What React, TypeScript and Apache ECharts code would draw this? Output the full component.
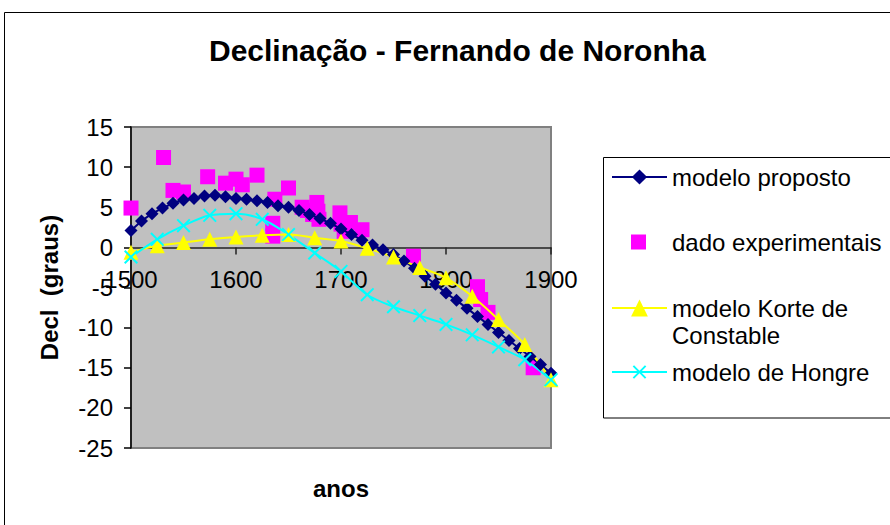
import React, { useEffect, useRef } from "react";
import * as echarts from "echarts";

const FONT = "'Liberation Sans', Arial, sans-serif";

const title = "Declinação - Fernando de Noronha";
const xName = "anos";
const yName = "Decl  (graus)";

const seriesNames = [
  "modelo proposto",
  "dado experimentais",
  "modelo Korte de Constable",
  "modelo de Hongre",
];

const modelYears = [
  1500, 1510, 1520, 1530, 1540, 1550, 1560, 1570, 1580, 1590, 1600, 1610, 1620, 1630,
  1640, 1650, 1660, 1670, 1680, 1690, 1700, 1710, 1720, 1730, 1740, 1750, 1760, 1770,
  1780, 1790, 1800, 1810, 1820, 1830, 1840, 1850, 1860, 1870, 1880, 1890, 1900,
];
const modelValues = [
  2.1, 3.3, 4.2, 4.9, 5.5, 5.9, 6.1, 6.4, 6.5, 6.3, 6.1, 6.0, 5.8, 5.6,
  5.2, 5.0, 4.6, 4.1, 3.6, 3.0, 2.3, 1.6, 0.9, 0.3, -0.3, -0.9, -1.7, -2.6,
  -3.6, -4.6, -5.7, -6.6, -7.6, -8.6, -9.6, -10.6, -11.6, -12.6, -13.6, -14.6, -15.7,
];

const expYears = [
  1500, 1531, 1540, 1550, 1573, 1590, 1600, 1606, 1620, 1637, 1635, 1635, 1650, 1663,
  1668, 1673, 1677, 1678, 1679, 1699, 1700, 1703, 1709, 1720, 1769, 1830, 1833, 1840, 1883,
];
const expValues = [
  4.9, 11.2, 7.1, 6.9, 8.8, 8.0, 8.5, 7.8, 9.0, 6.0, 3.0, 1.4, 7.4, 5.0,
  4.6, 4.1, 5.6, 4.5, 3.5, 4.3, 2.9, 2.0, 3.1, 2.2, -1.1, -4.9, -6.5, -8.1, -15.0,
];

const modelYears25 = [
  1500, 1525, 1550, 1575, 1600, 1625, 1650, 1675, 1700, 1725, 1750, 1775, 1800, 1825,
  1850, 1875, 1900,
];
const korteValues = [
  -0.6, 0.2, 0.6, 1.0, 1.3, 1.5, 1.6, 1.2, 0.8, -0.1, -1.2, -2.5, -3.8, -6.1, -9.0,
  -12.1, -16.5,
];
const hongreValues = [
  -1.2, 1.0, 2.7, 4.0, 4.2, 3.5, 1.6, -0.7, -3.0, -5.9, -7.4, -8.5, -9.6, -10.9, -12.4,
  -14.0, -16.5,
];

const xMin = 1500;
const xMax = 1900;
const xInterval = 100;
const yMin = -25;
const yMax = 15;
const yInterval = 5;

const GRID_TOP = 127;
const GRID_HEIGHT = 321;

const CROSS =
  "path://M1,0 L5,4 L9,0 L10,1 L6,5 L10,9 L9,10 L5,6 L1,10 L0,9 L4,5 L0,1 Z";

const pairs = (xs: number[], ys: number[]) => xs.map((x, i) => [x, ys[i]]);

export default function App() {
  const ref = useRef<HTMLDivElement>(null);

  useEffect(() => {
    if (!ref.current) return;
    const chart = echarts.init(ref.current, undefined, { renderer: "svg" });

    const legendText = { fontFamily: FONT, fontSize: 24, color: "#000" };
    // distance from the grid bottom up to the y = 0 line
    const zeroOffset = ((0 - yMin) / (yMax - yMin)) * GRID_HEIGHT;

    chart.setOption({
      animation: false,
      backgroundColor: "#ffffff",
      title: {
        text: title,
        left: 204,
        top: 30,
        textStyle: { fontFamily: FONT, fontSize: 30, fontWeight: "bold", color: "#000" },
      },
      graphic: [
        {
          type: "rect",
          z: -10,
          shape: { x: 4.5, y: 12.5, width: 1000, height: 1000 },
          style: { fill: "none", stroke: "#000", lineWidth: 1 },
          silent: true,
        },
        {
          type: "rect",
          z: 0,
          shape: { x: 603.5, y: 157.5, width: 400, height: 260.5 },
          style: { fill: "#fff", stroke: "#000", lineWidth: 1 },
          silent: true,
        },
        {
          type: "text",
          z: 5,
          x: 672,
          y: 335,
          style: {
            text: "Constable",
            fontFamily: FONT,
            fontSize: 24,
            fill: "#000",
            verticalAlign: "middle",
            align: "left",
          },
          silent: true,
        },
      ],
      legend: [
        {
          data: [seriesNames[0]],
          left: 611,
          top: 165,
          padding: 0,
          itemWidth: 55,
          itemHeight: 19,
          itemGap: 0,
          textStyle: legendText,
        },
        {
          data: [seriesNames[1]],
          left: 631,
          top: 230,
          padding: 0,
          itemWidth: 15,
          itemHeight: 15,
          textStyle: { ...legendText, padding: [0, 0, 0, 21] },
        },
        {
          data: [seriesNames[2]],
          left: 611,
          top: 296,
          padding: 0,
          itemWidth: 55,
          itemHeight: 21,
          formatter: () => "modelo Korte de",
          textStyle: legendText,
        },
        {
          data: [seriesNames[3]],
          left: 611,
          top: 360,
          padding: 0,
          itemWidth: 55,
          itemHeight: 17,
          textStyle: legendText,
        },
      ],
      grid: {
        left: 131,
        top: GRID_TOP,
        width: 420,
        height: GRID_HEIGHT,
        containLabel: false,
        outerBoundsMode: "none",
        show: true,
        backgroundColor: "#C0C0C0",
        borderColor: "#808080",
        borderWidth: 2,
      },
      xAxis: {
        type: "value",
        position: "bottom",
        offset: -zeroOffset,
        min: xMin,
        max: xMax,
        interval: xInterval,
        name: xName,
        nameLocation: "middle",
        nameGap: 229,
        nameTextStyle: { fontFamily: FONT, fontSize: 24, fontWeight: "bold", color: "#000" },
        axisLine: { show: true, onZero: false, lineStyle: { color: "#222", width: 1.5 } },
        axisTick: { show: true, length: 7, lineStyle: { color: "#222", width: 1.5 } },
        axisLabel: {
          margin: 20,
          fontFamily: FONT,
          fontSize: 24,
          color: "#000",
          formatter: (v: number) => String(v),
        },
        splitLine: { show: false },
      },
      yAxis: {
        type: "value",
        min: yMin,
        max: yMax,
        interval: yInterval,
        name: yName,
        nameLocation: "middle",
        nameRotate: 90,
        nameGap: 70,
        nameTextStyle: { fontFamily: FONT, fontSize: 24, fontWeight: "bold", color: "#000" },
        axisLine: { show: true, lineStyle: { color: "#000", width: 1.5 } },
        axisTick: { show: true, length: 7, lineStyle: { color: "#000", width: 1.5 } },
        axisLabel: { margin: 18, fontFamily: FONT, fontSize: 24, color: "#000" },
        splitLine: { show: false },
      },
      series: [
        {
          name: seriesNames[0],
          type: "line",
          data: pairs(modelYears, modelValues),
          symbol: "diamond",
          symbolSize: 13,
          clip: false,
          color: "#000080",
          itemStyle: { color: "#000080" },
          lineStyle: { color: "#000080", width: 2 },
        },
        {
          name: seriesNames[1],
          type: "scatter",
          data: pairs(expYears, expValues),
          symbol: "rect",
          symbolSize: 15,
          clip: false,
          color: "#FF00FF",
          itemStyle: { color: "#FF00FF", opacity: 1 },
        },
        {
          name: seriesNames[2],
          type: "line",
          data: pairs(modelYears25, korteValues),
          symbol: "triangle",
          symbolSize: 15,
          smooth: 0.3,
          clip: false,
          color: "#FFFF00",
          itemStyle: { color: "#FFFF00" },
          lineStyle: { color: "#FFFF00", width: 2 },
        },
        {
          name: seriesNames[3],
          type: "line",
          data: pairs(modelYears25, hongreValues),
          symbol: CROSS,
          symbolSize: 14,
          smooth: 0.3,
          clip: false,
          color: "#00FFFF",
          itemStyle: { color: "#00FFFF" },
          lineStyle: { color: "#00FFFF", width: 2 },
        },
      ],
    });

    return () => chart.dispose();
  }, []);

  return (
    <div
      ref={ref}
      style={{ position: "fixed", left: 0, top: 0, width: 890, height: 525, background: "#fff" }}
    />
  );
}
